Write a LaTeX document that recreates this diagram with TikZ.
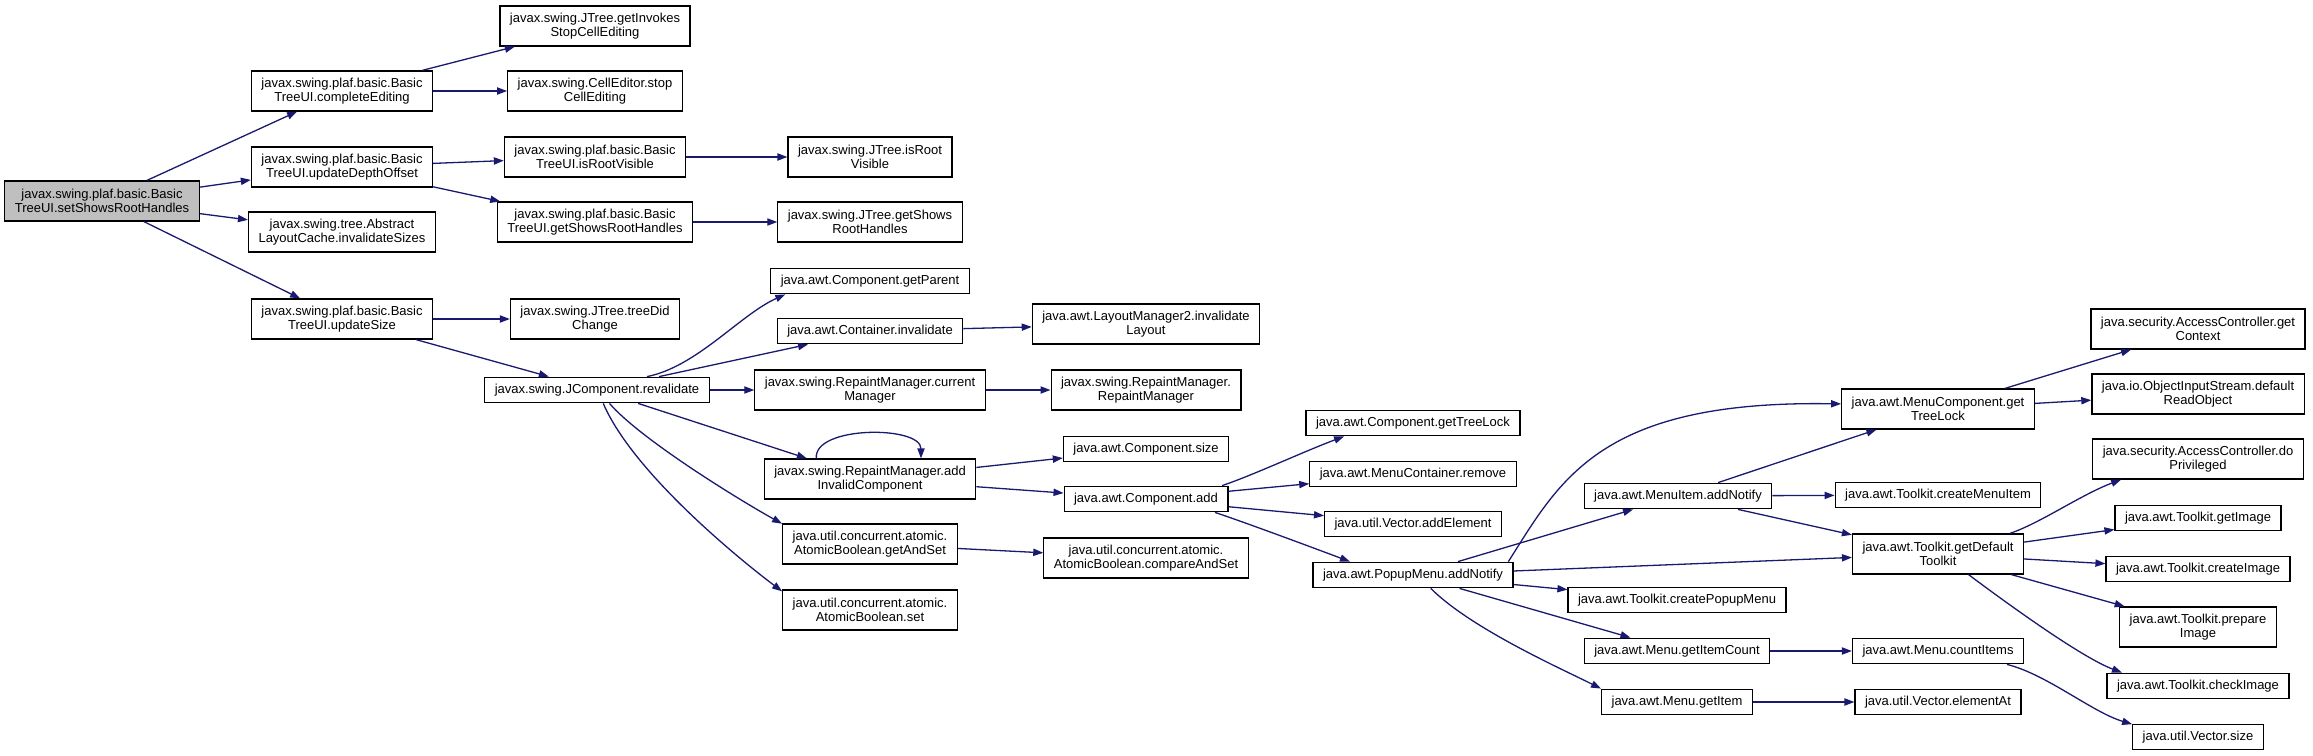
\documentclass[tikz,border=0pt]{standalone}
\usepackage{fontspec}
\setmainfont{Liberation Sans}
\usepackage{tikz}
\usetikzlibrary{arrows.meta}
\definecolor{midnight}{HTML}{191970}
\definecolor{rootgray}{HTML}{BFBFBF}

\begin{document}
\begin{tikzpicture}[x=0.5pt, y=-0.5pt,
        fn/.style={draw=black, line width=0.6pt, align=center, inner xsep=5pt, inner ysep=1pt, minimum height=12.8pt, font=\fontsize{6.5}{7.2}\selectfont},
        fntwo/.style={fn, minimum height=20pt},
        pfeil/.style={draw=midnight, line width=0.65pt, -{Triangle[length=5pt, width=3.6pt]}}]
        % Rahmen
        \useasboundingbox (0, 0) rectangle (2313, 755);

        % Knoten links
        \node[fntwo, fill=rootgray] (root) at (102, 201) {javax.swing.plaf.basic.Basic\\TreeUI.setShowsRootHandles};
        \node[fntwo] (complete) at (342, 91) {javax.swing.plaf.basic.Basic\\TreeUI.completeEditing};
        \node[fntwo] (depth) at (342, 167) {javax.swing.plaf.basic.Basic\\TreeUI.updateDepthOffset};
        \node[fntwo] (invsizes) at (342, 232) {javax.swing.tree.Abstract\\LayoutCache.invalidateSizes};
        \node[fntwo] (updsize) at (342, 319) {javax.swing.plaf.basic.Basic\\TreeUI.updateSize};
        \node[fntwo] (invokes) at (595, 26) {javax.swing.JTree.getInvokes\\StopCellEditing};
        \node[fntwo] (stopedit) at (595, 91) {javax.swing.CellEditor.stop\\CellEditing};
        \node[fntwo] (bisroot) at (595, 157) {javax.swing.plaf.basic.Basic\\TreeUI.isRootVisible};
        \node[fntwo] (bshows) at (595, 222) {javax.swing.plaf.basic.Basic\\TreeUI.getShowsRootHandles};
        \node[fntwo] (treedid) at (595, 319) {javax.swing.JTree.treeDid\\Change};
        \node[fn] (reval) at (597, 390) {javax.swing.JComponent.revalidate};

        % Knoten Mitte
        \node[fntwo] (jisroot) at (870, 157) {javax.swing.JTree.isRoot\\Visible};
        \node[fntwo] (jshows) at (870, 222) {javax.swing.JTree.getShows\\RootHandles};
        \node[fn] (getparent) at (870, 281) {java.awt.Component.getParent};
        \node[fn] (contval) at (870, 331) {java.awt.Container.invalidate};
        \node[fntwo] (curman) at (870, 390) {javax.swing.RepaintManager.current\\Manager};
        \node[fntwo] (addinv) at (870, 479) {javax.swing.RepaintManager.add\\InvalidComponent};
        \node[fntwo] (getset) at (870, 544) {java.util.concurrent.atomic.\\AtomicBoolean.getAndSet};
        \node[fntwo] (abset) at (870, 610) {java.util.concurrent.atomic.\\AtomicBoolean.set};
        \node[fntwo] (layinv) at (1146, 324) {java.awt.LayoutManager2.invalidate\\Layout};
        \node[fntwo] (rmctor) at (1146, 390) {javax.swing.RepaintManager.\\RepaintManager};
        \node[fn] (csize) at (1146, 449) {java.awt.Component.size};
        \node[fn] (cadd) at (1146, 499) {java.awt.Component.add};
        \node[fntwo] (cas) at (1146, 558) {java.util.concurrent.atomic.\\AtomicBoolean.compareAndSet};
        \node[fn] (ctreelock) at (1413, 423) {java.awt.Component.getTreeLock};
        \node[fn] (mcremove) at (1413, 474) {java.awt.MenuContainer.remove};
        \node[fn] (vaddel) at (1413, 524) {java.util.Vector.addElement};
        \node[fn] (popnot) at (1413, 575) {java.awt.PopupMenu.addNotify};

        % Knoten rechts
        \node[fn] (minot) at (1678, 496) {java.awt.MenuItem.addNotify};
        \node[fn] (createpop) at (1677, 600) {java.awt.Toolkit.createPopupMenu};
        \node[fn] (getcount) at (1677, 651) {java.awt.Menu.getItemCount};
        \node[fn] (getitem) at (1677, 702) {java.awt.Menu.getItem};
        \node[fntwo] (mctreelock) at (1938, 409) {java.awt.MenuComponent.get\\TreeLock};
        \node[fn] (createmi) at (1938, 495) {java.awt.Toolkit.createMenuItem};
        \node[fntwo] (deftk) at (1938, 554) {java.awt.Toolkit.getDefault\\Toolkit};
        \node[fn] (countitems) at (1938, 651) {java.awt.Menu.countItems};
        \node[fn] (elemat) at (1938, 702) {java.util.Vector.elementAt};
        \node[fntwo] (getctx) at (2198, 329) {java.security.AccessController.get\\Context};
        \node[fntwo] (readobj) at (2198, 394) {java.io.ObjectInputStream.default\\ReadObject};
        \node[fntwo] (dopriv) at (2198, 459) {java.security.AccessController.do\\Privileged};
        \node[fn] (getimg) at (2198, 518) {java.awt.Toolkit.getImage};
        \node[fn] (createimg) at (2198, 569) {java.awt.Toolkit.createImage};
        \node[fntwo] (prepimg) at (2198, 627) {java.awt.Toolkit.prepare\\Image};
        \node[fn] (checkimg) at (2198, 686) {java.awt.Toolkit.checkImage};
        \node[fn] (vsize) at (2198, 737) {java.util.Vector.size};

        % Pfeile
        \draw[pfeil] (root) -- (complete);
        \draw[pfeil] (root) -- (depth);
        \draw[pfeil] (root) -- (invsizes);
        \draw[pfeil] (root) -- (updsize);
        \draw[pfeil] (complete) -- (invokes);
        \draw[pfeil] (complete) -- (stopedit);
        \draw[pfeil] (depth) -- (bisroot);
        \draw[pfeil] (depth) -- (bshows);
        \draw[pfeil] (bisroot) -- (jisroot);
        \draw[pfeil] (bshows) -- (jshows);
        \draw[pfeil] (updsize) -- (treedid);
        \draw[pfeil] (updsize) -- (reval);
        \draw[pfeil] (reval.15) .. controls +(50, -10) and +(-45, 20) .. (getparent.189);
        \draw[pfeil] (reval) -- (contval);
        \draw[pfeil] (reval) -- (curman);
        \draw[pfeil] (reval) -- (addinv);
        \draw[pfeil] (reval.313) .. controls +(30, 35) and +(-45, -25) .. (getset.167);
        \draw[pfeil] (reval.295) .. controls +(30, 70) and +(-40, -30) .. (abset.168);
        \draw[pfeil] (contval) -- (layinv);
        \draw[pfeil] (curman) -- (rmctor);
        \draw[pfeil] (addinv.159) .. controls +(-3, -33) and +(0, -33) .. (addinv.22);
        \draw[pfeil] (addinv) -- (csize);
        \draw[pfeil] (addinv) -- (cadd);
        \draw[pfeil] (getset) -- (cas);
        \draw[pfeil] (cadd.10) .. controls +(30, -10) and +(-40, 15) .. (ctreelock.191);
        \draw[pfeil] (cadd) -- (mcremove);
        \draw[pfeil] (cadd) -- (vaddel);
        \draw[pfeil] (cadd.349) .. controls +(30, 10) and +(-40, -15) .. (popnot.168);
        \draw[pfeil] (popnot.8) .. controls +(52, -82) and +(-241, -4) .. (mctreelock.177);
        \draw[pfeil] (popnot) -- (minot);
        \draw[pfeil] (popnot) -- (deftk);
        \draw[pfeil] (popnot) -- (createpop);
        \draw[pfeil] (popnot) -- (getcount);
        \draw[pfeil] (popnot.323) .. controls +(40, 40) and +(-40, -20) .. (getitem.170);
        \draw[pfeil] (minot) -- (mctreelock);
        \draw[pfeil] (minot) -- (createmi);
        \draw[pfeil] (minot) -- (deftk);
        \draw[pfeil] (getcount) -- (countitems);
        \draw[pfeil] (getitem) -- (elemat);
        \draw[pfeil] (mctreelock) -- (getctx);
        \draw[pfeil] (mctreelock) -- (readobj);
        \draw[pfeil] (deftk.16) .. controls +(30, -10) and +(-40, 15) .. (dopriv.195);
        \draw[pfeil] (deftk) -- (getimg);
        \draw[pfeil] (deftk) -- (createimg);
        \draw[pfeil] (deftk) -- (prepimg);
        \draw[pfeil] (deftk.326) .. controls +(40, 30) and +(-40, -15) .. (checkimg.170);
        \draw[pfeil] (countitems.349) .. controls +(40, 10) and +(-40, -12) .. (vsize.169);
\end{tikzpicture}
\end{document}
